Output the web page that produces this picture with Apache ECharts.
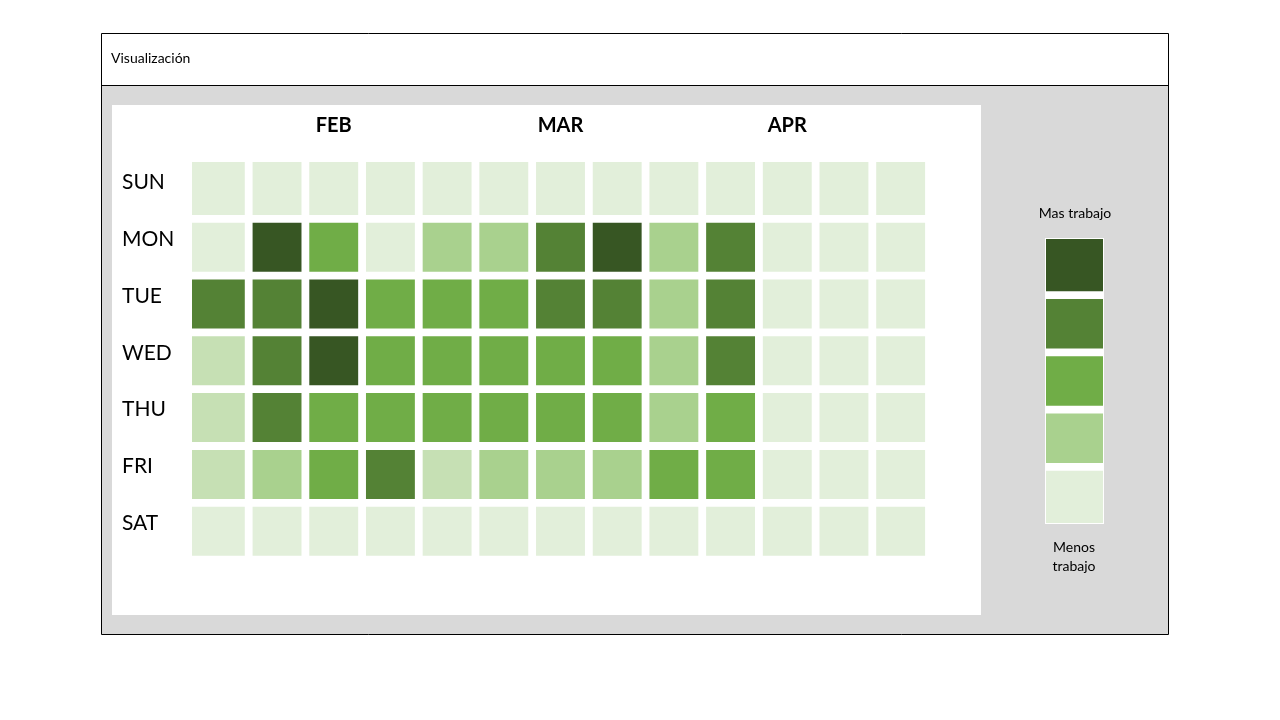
<!DOCTYPE html>
<html>
<head>
<meta charset="utf-8">
<script src="https://cdn.jsdelivr.net/npm/echarts@6/dist/echarts.min.js"></script>
<style>
html,body{margin:0;padding:0;background:#fff;}
#chart{width:1280px;height:720px;}
</style>
</head>
<body>
<div id="chart"></div>
<script>
// ---- data ----
const days = ['SUN', 'MON', 'TUE', 'WED', 'THU', 'FRI', 'SAT'];
const weeks = ['W1','W2','W3','W4','W5','W6','W7','W8','W9','W10','W11','W12','W13'];
const monthLabels = ['', '', 'FEB', '', '', '', 'MAR', '', '', '', 'APR', '', ''];
// work level per day (1 = least, 6 = most), one array per weekday, one value per week
const sun = [1,1,1,1,1,1,1,1,1,1,1,1,1];
const mon = [1,6,4,1,3,3,5,6,3,5,1,1,1];
const tue = [5,5,6,4,4,4,5,5,3,5,1,1,1];
const wed = [2,5,6,4,4,4,4,4,3,5,1,1,1];
const thu = [2,5,4,4,4,4,4,4,3,4,1,1,1];
const fri = [2,3,4,5,2,3,3,3,4,4,1,1,1];
const sat = [1,1,1,1,1,1,1,1,1,1,1,1,1];
const levelColors = ['#E2EFDA', '#C6E0B4', '#A9D18E', '#70AD47', '#548235', '#375623'];
const legendLevels = [6, 5, 4, 3, 1];
const legendCats = ['L6', 'L5', 'L4', 'L3', 'L1'];
const legendTop = 'Mas trabajo';
const legendBottom = 'Menos\ntrabajo';
const titleText = 'Visualización';

const rows = [sun, mon, tue, wed, thu, fri, sat];
const cellData = [];
rows.forEach((r, ri) => r.forEach((v, ci) => cellData.push([ci, ri, v])));
const legendData = legendLevels.map((v, i) => [0, i, v]);

const FONT = 'Lato, "Open Sans", sans-serif';

function renderMain(params, api) {
  const col = api.value(0), row = api.value(1), lvl = api.value(2);
  const c = api.coord([col, row]);
  const s = api.size([1, 1]);
  const g = 7.8;
  const x0 = c[0] - s[0] / 2 + (col === 0 ? 0 : g / 2);
  const x1 = c[0] + s[0] / 2 - g / 2;
  const y0 = c[1] - s[1] / 2 + (row === 0 ? 0 : g / 2);
  const y1 = c[1] + s[1] / 2 - g / 2;
  return {type: 'rect', shape: {x: x0, y: y0, width: x1 - x0, height: y1 - y0},
          style: {fill: levelColors[lvl - 1]}};
}
function renderLegend(params, api) {
  const row = api.value(1), lvl = api.value(2);
  const c = api.coord([0, row]);
  const s = api.size([1, 1]);
  const g = 7.8, n = legendLevels.length;
  const x0 = c[0] - s[0] / 2 + 1;
  const x1 = c[0] + s[0] / 2 - 1;
  const y0 = c[1] - s[1] / 2 + (row === 0 ? 1 : g / 2);
  const y1 = c[1] + s[1] / 2 - (row === n - 1 ? 1 : g / 2);
  return {type: 'rect', shape: {x: x0, y: y0, width: x1 - x0, height: y1 - y0},
          style: {fill: levelColors[lvl - 1]}};
}

const chart = echarts.init(document.getElementById('chart'), null, {renderer: 'canvas'});
chart.setOption({
  animation: false,
  backgroundColor: '#ffffff',
  textStyle: {fontFamily: FONT},
  title: [
    {text: titleText, left: 111, top: 51, padding: 0, textStyle: {fontFamily: FONT, fontSize: 14, fontWeight: 'normal', color: '#000'}},
    {text: legendTop, left: 1075, top: 206, padding: 0, textAlign: 'center', textStyle: {fontFamily: FONT, fontSize: 14, fontWeight: 'normal', color: '#000'}},
    {text: legendBottom, left: 1074, top: 538, padding: 0, textAlign: 'center', textStyle: {fontFamily: FONT, fontSize: 14, fontWeight: 'normal', color: '#000', lineHeight: 19}}
  ],
  graphic: {elements: [
    {type: 'rect', shape: {x: 101.5, y: 33.5, width: 1067, height: 601}, style: {fill: '#fff', stroke: '#000', lineWidth: 1}},
    {type: 'rect', shape: {x: 102, y: 86, width: 1066, height: 548}, style: {fill: '#D9D9D9'}},
    {type: 'line', shape: {x1: 101, y1: 85.5, x2: 1169, y2: 85.5}, style: {stroke: '#000', lineWidth: 1}},
    {type: 'rect', shape: {x: 112, y: 105, width: 869, height: 510}, style: {fill: '#fff'}},
    {type: 'rect', shape: {x: 1045, y: 238, width: 59, height: 286}, style: {fill: '#fff'}}
  ]},
  grid: [
    {left: 192, top: 162, width: 737, height: 397.6, containLabel: false},
    {left: 1045, top: 238, width: 59, height: 286, containLabel: false}
  ],
  xAxis: [
    {type: 'category', gridIndex: 0, data: weeks, position: 'top',
     axisLine: {show: false}, axisTick: {show: false}, splitLine: {show: false},
     axisLabel: {interval: 0, margin: 26, fontFamily: FONT, fontSize: 20, fontWeight: 'bold', color: '#000',
                 formatter: (v, i) => monthLabels[i]}},
    {type: 'category', gridIndex: 1, data: ['L'], show: false}
  ],
  yAxis: [
    {type: 'category', gridIndex: 0, data: days, inverse: true,
     axisLine: {show: false}, axisTick: {show: false}, splitLine: {show: false},
     axisLabel: {interval: 0, margin: 70, align: 'left', verticalAlign: 'bottom', lineHeight: 16,
                 fontFamily: FONT, fontSize: 21, color: '#000'}},
    {type: 'category', gridIndex: 1, data: legendCats, inverse: true, show: false}
  ],
  series: [
    {type: 'custom', xAxisIndex: 0, yAxisIndex: 0, renderItem: renderMain, data: cellData, silent: true},
    {type: 'custom', xAxisIndex: 1, yAxisIndex: 1, renderItem: renderLegend, data: legendData, silent: true}
  ]
});
</script>
</body>
</html>
